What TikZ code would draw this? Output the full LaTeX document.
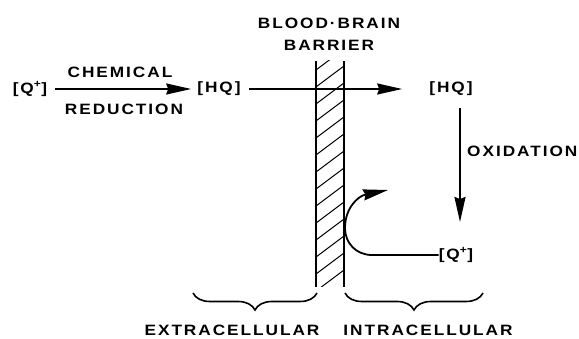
\documentclass[tikz,border=0pt]{standalone}
\usepackage{fontspec}
\setmainfont{Liberation Sans}
\newfontfamily\lblfont[FakeStretch=1.15,LetterSpace=13]{Liberation Sans}
\usetikzlibrary{arrows.meta,decorations.pathreplacing}
\begin{document}
\begin{tikzpicture}[x=1pt,y=-1pt,
  lbl/.style={font=\lblfont\bfseries\fontsize{15}{17}\selectfont, inner sep=0pt},
  flow/.style={line width=1.8pt, -{Stealth[length=25pt,width=11pt,inset=2pt]}},
  wall/.style={line width=2.8pt},
  hatch/.style={line width=1pt},
  brk/.style={line width=1.6pt, decorate, decoration={brace,mirror,amplitude=17pt,aspect=0.5}}]
\useasboundingbox (0,0) rectangle (579,339);
% labels
\node[lbl] (q1) at (30,89) {[Q\textsuperscript{+}]};
\node[lbl] (chem) at (120,72) {CHEMICAL};
\node[lbl] (red) at (124,109) {REDUCTION};
\node[lbl] (hq1) at (219,89) {[HQ]};
\node[lbl] (bbb1) at (329,23) {BLOOD·BRAIN};
\node[lbl] (bbb2) at (329,45) {BARRIER};
\node[lbl] (hq2) at (451,89) {[HQ]};
\node[lbl,anchor=west] (ox) at (467,151) {OXIDATION};
\node[lbl] (q2) at (456,255) {[Q\textsuperscript{+}]};
\node[lbl] (ext) at (232,330) {EXTRACELLULAR};
\node[lbl] (int) at (428,330) {INTRACELLULAR};
% barrier
\begin{scope}
  \clip (316,61) rectangle (344,287);
  \foreach \y in {70,87,...,320} \draw[hatch] (316,\y) -- (344,\y-21);
\end{scope}
\draw[wall] (316,61) -- (316,287);
\draw[wall] (344,61) -- (344,287);
% arrows
\draw[flow, shorten <=8pt, shorten >=6pt] (q1) -- (hq1);
\draw[flow, shorten <=8pt, shorten >=27pt] (hq1) -- (hq2);
\coordinate (oxa) at (460,108);
\coordinate (oxb) at (460,222);
\draw[flow] (oxa) -- (oxb);
\draw[flow] (q2.west) -- (372,255) .. controls (356,255) and (345,243) .. (345,228)
  .. controls (345,208) and (358,196) .. (388,190);
% braces
\coordinate (e1) at (193,293); \coordinate (e2) at (317,293);
\coordinate (i1) at (345,293); \coordinate (i2) at (483,293);
\draw[brk] (e1) -- (e2);
\draw[brk] (i1) -- (i2);
\end{tikzpicture}
\end{document}
